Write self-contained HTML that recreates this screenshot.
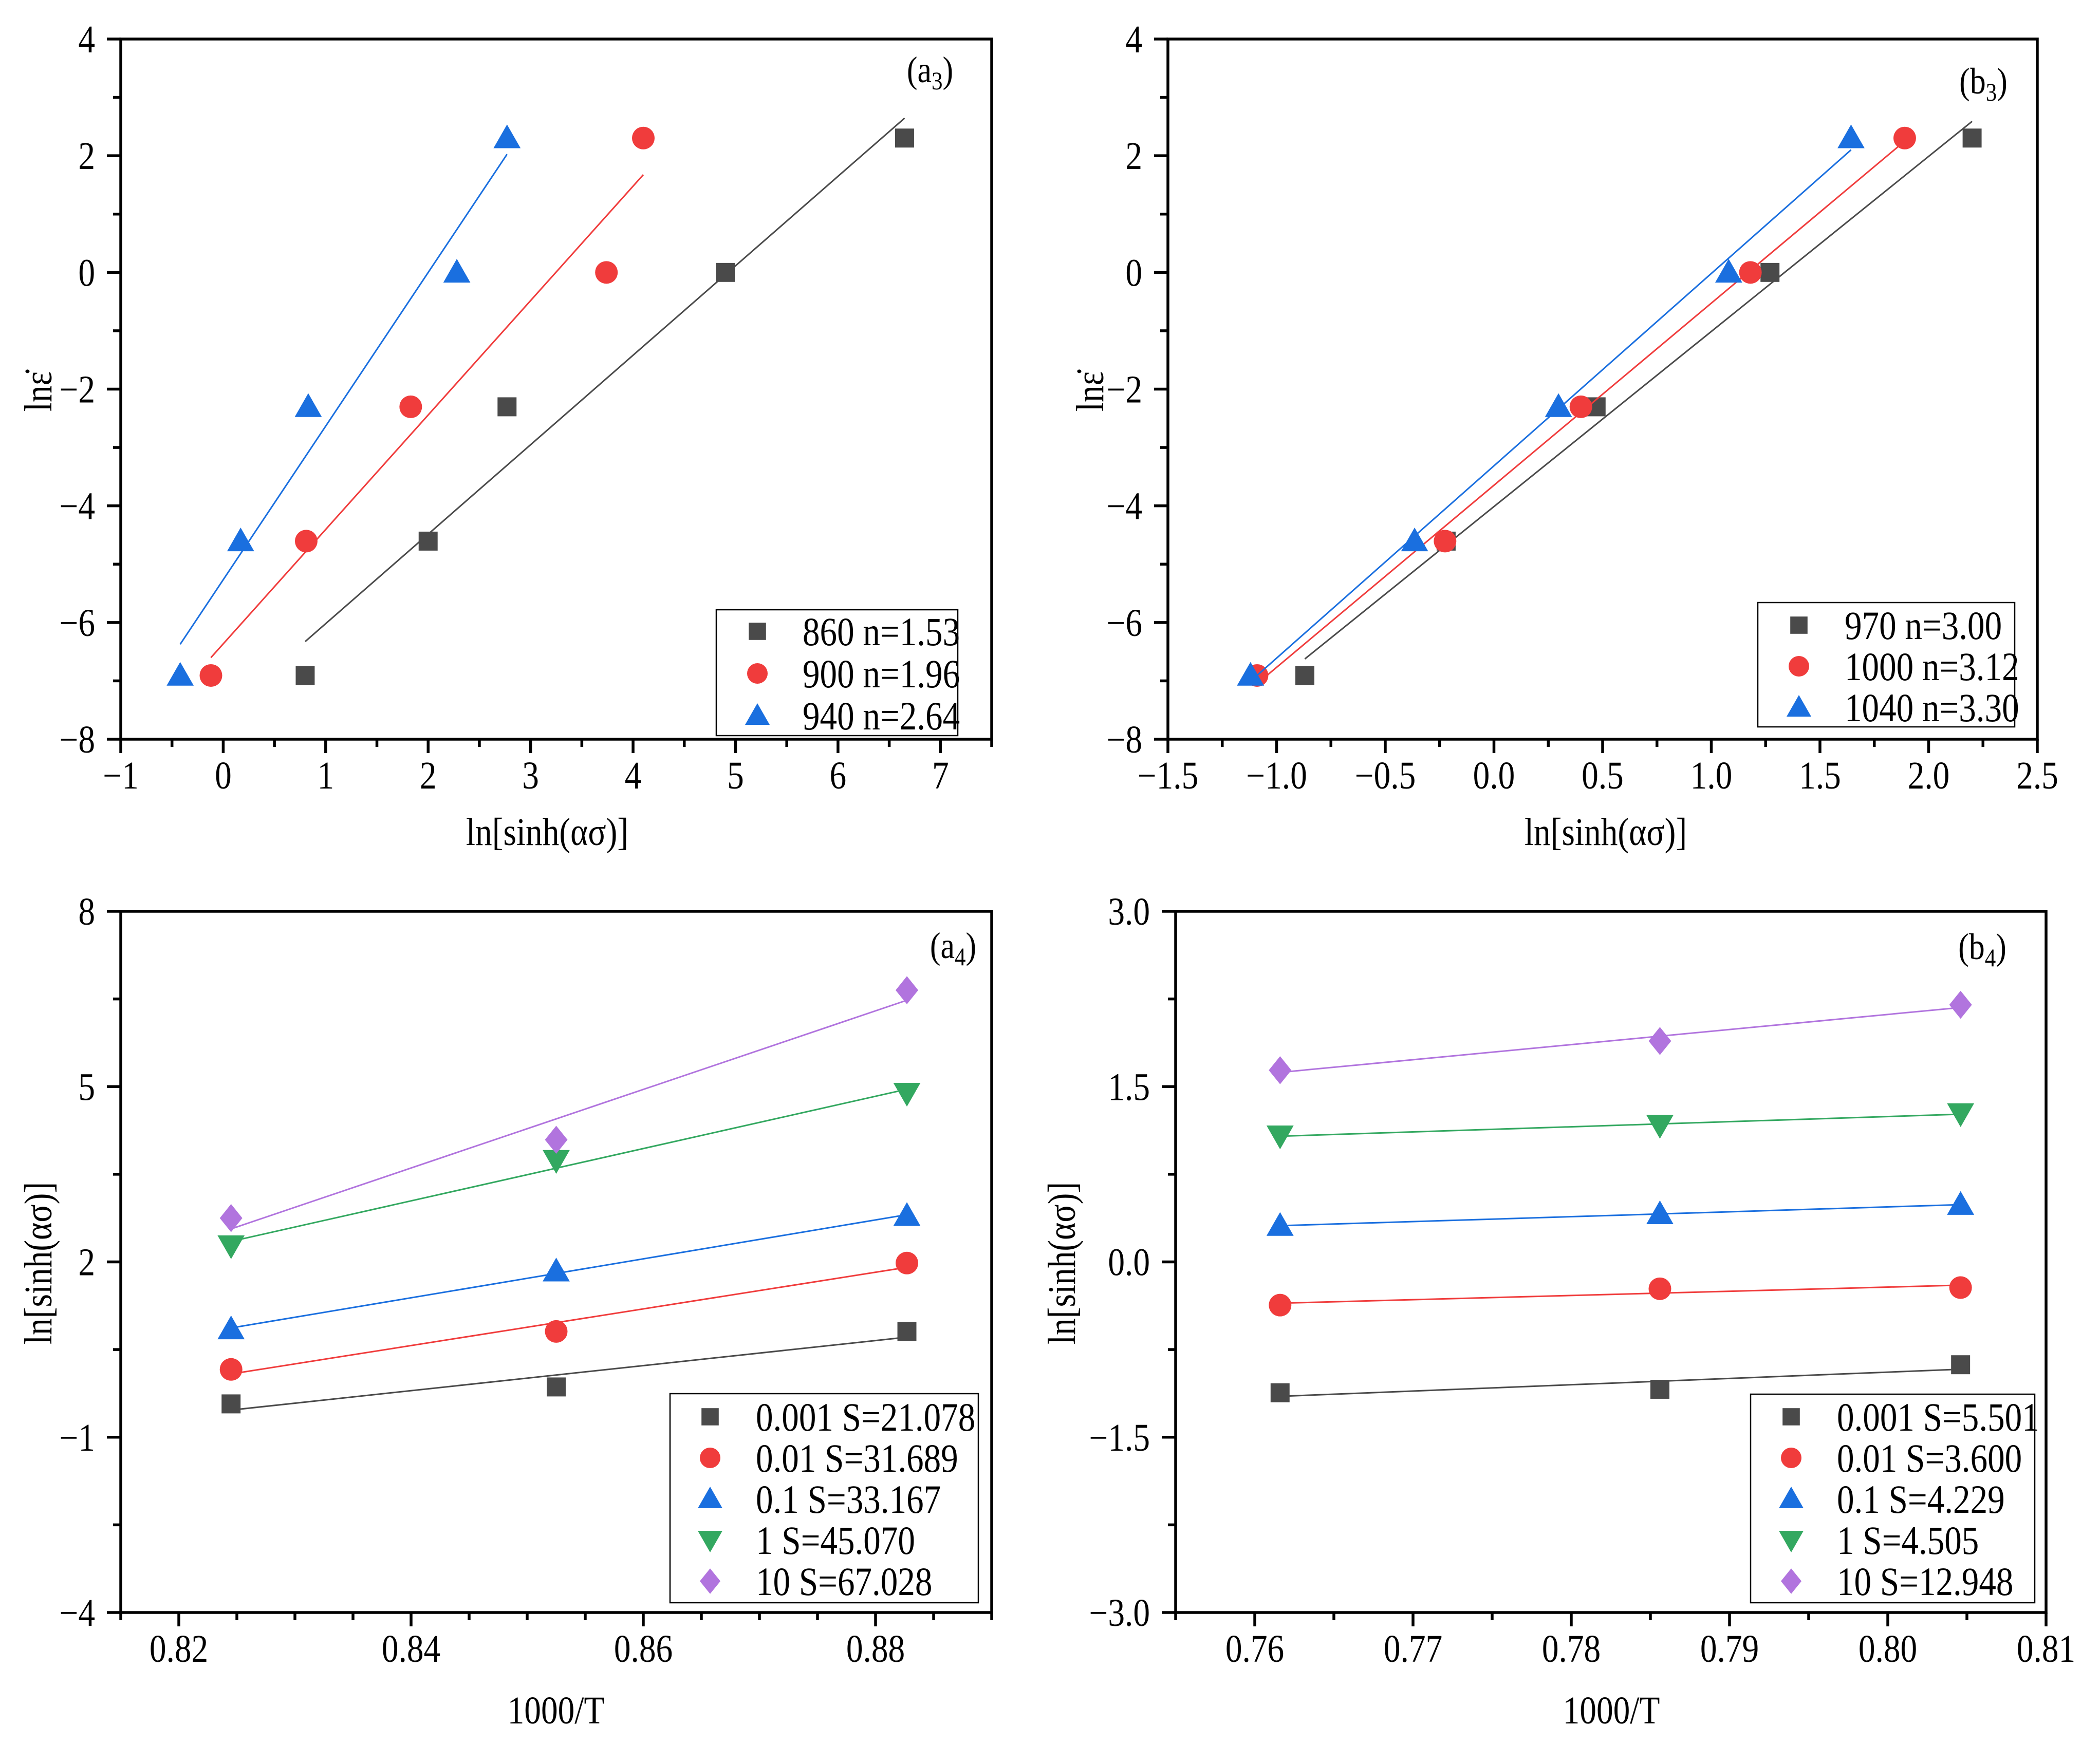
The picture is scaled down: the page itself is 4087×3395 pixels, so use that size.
<!DOCTYPE html>
<html><head><meta charset="utf-8"><style>
html,body{margin:0;padding:0;background:#fff}
svg{display:block}
text{font-family:"Liberation Serif","DejaVu Serif",serif;fill:#000}
</style></head><body>
<svg id="fig" width="4087" height="3395" viewBox="0 0 4087 3395" xmlns="http://www.w3.org/2000/svg"></svg>
<script>
// ---- data ----
const lnRate = [-6.908, -4.605, -2.303, 0, 2.303];
const a3Labels = ["860 n=1.53", "900 n=1.96", "940 n=2.64"];
const a3X860 = [0.80, 2.00, 2.77, 4.90, 6.65];
const a3X900 = [-0.12, 0.81, 1.83, 3.74, 4.10];
const a3X940 = [-0.42, 0.17, 0.83, 2.28, 2.77];
const b3Labels = ["970 n=3.00", "1000 n=3.12", "1040 n=3.30"];
const b3X970 = [-0.87, -0.22, 0.47, 1.27, 2.20];
const b3X1000 = [-1.09, -0.225, 0.40, 1.18, 1.89];
const b3X1040 = [-1.12, -0.365, 0.297, 1.08, 1.643];
const a4T = [0.8245, 0.8525, 0.8827];
const a4Labels = ["0.001 S=21.078", "0.01 S=31.689", "0.1 S=33.167", "1 S=45.070", "10 S=67.028"];
const a4Y0001 = [-0.43, -0.14, 0.81];
const a4Y001 = [0.16, 0.81, 1.98];
const a4Y01 = [0.85, 1.84, 2.79];
const a4Y1 = [2.28, 3.74, 4.89];
const a4Y10 = [2.75, 4.09, 6.65];
const b4T = [0.7616, 0.7856, 0.8046];
const b4Labels = ["0.001 S=5.501", "0.01 S=3.600", "0.1 S=4.229", "1 S=4.505", "10 S=12.948"];
const b4Y0001 = [-1.12, -1.09, -0.88];
const b4Y001 = [-0.37, -0.23, -0.22];
const b4Y01 = [0.31, 0.41, 0.49];
const b4Y1 = [1.08, 1.17, 1.27];
const b4Y10 = [1.64, 1.89, 2.20];
const a3XTicks = ["\u22121","0","1","2","3","4","5","6","7"];
const a3YTicks = ["\u22128","\u22126","\u22124","\u22122","0","2","4"];
const b3XTicks = ["\u22121.5","\u22121.0","\u22120.5","0.0","0.5","1.0","1.5","2.0","2.5"];
const a4XTicks = ["0.82","0.84","0.86","0.88"];
const a4YTicks = ["\u22124","\u22121","2","5","8"];
const b4XTicks = ["0.76","0.77","0.78","0.79","0.80","0.81"];
const b4YTicks = ["\u22123.0","\u22121.5","0.0","1.5","3.0"];

const NS = "http://www.w3.org/2000/svg";
const svg = document.getElementById('fig');
const COLORS = ["#4a4a4a", "#f03c3c", "#1a6fdf", "#33a860", "#b174de"];
const SHAPES = ["square", "circle", "triangle", "tridown", "diamond"];
const SX = 0.86;

function mk(tag, attrs, parent) {
  const e = document.createElementNS(NS, tag);
  for (const k in attrs) e.setAttribute(k, attrs[k]);
  (parent || svg).appendChild(e);
  return e;
}
function txt(parent, x, y, size, anchor, extra) {
  return mk("text", {x: 0, y: 0, "font-size": size, "text-anchor": anchor, transform: `translate(${x},${y}) ${extra || ''} scale(${SX},1)`}, parent);
}
function marker(g, shape, cx, cy, color, s) {
  let e;
  if (shape === "square") e = mk("rect", {x: cx - s*0.42, y: cy - s*0.42, width: s*0.84, height: s*0.84, fill: color}, g);
  else if (shape === "circle") e = mk("circle", {cx: cx, cy: cy, r: s*0.5, fill: color}, g);
  else if (shape === "triangle") e = mk("polygon", {points: `${cx},${cy - s*0.6} ${cx - s*0.6},${cy + s*0.45} ${cx + s*0.6},${cy + s*0.45}`, fill: color}, g);
  else if (shape === "tridown") e = mk("polygon", {points: `${cx},${cy + s*0.6} ${cx - s*0.6},${cy - s*0.45} ${cx + s*0.6},${cy - s*0.45}`, fill: color}, g);
  else e = mk("polygon", {points: `${cx},${cy - s*0.62} ${cx + s*0.5},${cy} ${cx},${cy + s*0.62} ${cx - s*0.5},${cy}`, fill: color}, g);
  return e;
}
function fit(xs, ys) {
  const n = xs.length; let mx = 0, my = 0;
  for (let i = 0; i < n; i++) { mx += xs[i]; my += ys[i]; }
  mx /= n; my /= n;
  let sxy = 0, sxx = 0;
  for (let i = 0; i < n; i++) { sxy += (xs[i]-mx)*(ys[i]-my); sxx += (xs[i]-mx)*(xs[i]-mx); }
  const b = sxy / sxx; return [b, my - b*mx];
}

function panel(p) {
  const g = mk("g", {});
  
  
  const X = v => p.L + (v - p.xmin) / (p.xmax - p.xmin) * (p.R - p.L);
  const Y = v => p.B - (v - p.ymin) / (p.ymax - p.ymin) * (p.B - p.T);
  const tg = mk("g", {stroke: "#000", "stroke-width": 5.5}, g);
  
  
  for (let v = p.xmin; v <= p.xmax + 1e-9; v += p.xminor) {
    const major = Math.abs(((v - p.xfirst) / p.xmajor) - Math.round((v - p.xfirst) / p.xmajor)) < 1e-6 && v >= p.xfirst - 1e-9;
    mk("line", {x1: X(v), x2: X(v), y1: p.B, y2: p.B + (major ? 27 : 15)}, tg);
  }
  for (let v = p.ymin; v <= p.ymax + 1e-9; v += p.yminor) {
    const major = Math.abs(((v - p.ymin) / p.ymajor) - Math.round((v - p.ymin) / p.ymajor)) < 1e-6;
    mk("line", {x1: p.L, x2: p.L - (major ? 27 : 15), y1: Y(v), y2: Y(v)}, tg);
  }
  const fr = mk("rect", {x: p.L, y: p.T, width: p.R - p.L, height: p.B - p.T, fill: "none", stroke: "#000", "stroke-width": 5.5}, g);
  
  
  p.xticks.forEach((lab, i) => {
    const t = txt(g, X(p.xfirst + i * p.xmajor), p.B + 96, 76, "middle");
    
    
    t.textContent = lab;
  });
  p.yticks.forEach((lab, i) => {
    const t = txt(g, p.L - 50, Y(p.ymin + i * p.ymajor) + 26, 76, "end");
    
    
    t.textContent = lab;
  });
  const xt = txt(g, p.xtx, p.xty, 76, "middle");
  
  
  xt.textContent = p.xtitle;
  const yt = mk("text", {x: 0, y: 0, "font-size": 76, "text-anchor": "middle", transform: `translate(${p.ytx},${p.yty}) rotate(-90) scale(${SX},1)`}, g);
  
  
  yt.textContent = p.ytitle;
  const pl = txt(g, p.plx, p.ply, 72, "middle");
  
  
  pl.textContent = "(" + p.plabel;
  const sub = mk("tspan", {"font-size": 50, dy: 14}, pl);
  sub.textContent = p.psub;
  const cl = mk("tspan", {dy: -14}, pl);
  cl.textContent = ")";
  p.series.forEach((s, si) => {
    const sg = mk("g", {}, g);
    
    
    const [b, a] = fit(s.x, s.y);
    const x0 = Math.min(...s.x), x1 = Math.max(...s.x);
    const ln = mk("line", {x1: X(x0), y1: Y(a + b*x0), x2: X(x1), y2: Y(a + b*x1), stroke: COLORS[s.c], "stroke-width": 3}, sg);
    
    
    for (let i = 0; i < s.x.length; i++) {
      const m = marker(sg, SHAPES[s.c], X(s.x[i]), Y(s.y[i]), COLORS[s.c], 44);
      
      
    }
  });
  const lg = mk("g", {}, g);
  
  
  mk("rect", {x: p.lg[0], y: p.lg[1], width: p.lg[2] - p.lg[0], height: p.lg[3] - p.lg[1], fill: "#fff", stroke: "#000", "stroke-width": 2.5}, lg);
  p.series.forEach((s, si) => {
    const ry = p.lrow0 + si * p.lstep;
    const m = marker(lg, SHAPES[s.c], p.lmx, ry, COLORS[s.c], 40);
    
    
    const t = txt(lg, p.ltx, ry + 27, 78, "start");
    
    
    t.textContent = s.label;
  });
}

const epsTitle = "ln\u03B5\u0307";
panel({name: "panel-a3", L: 235, R: 1930, T: 76, B: 1439, xmin: -1, xmax: 7.5, xfirst: -1, xmajor: 1, xminor: 0.5,
  ymin: -8, ymax: 4, ymajor: 2, yminor: 1, xticks: a3XTicks, yticks: a3YTicks,
  xtitle: "ln[sinh(\u03B1\u03C3)]", xtx: 1065, xty: 1645, ytitle: epsTitle, ytx: 100, yty: 762,
  plabel: "a", psub: "3", plx: 1810, ply: 160,
  series: [{label: a3Labels[0], x: a3X860, y: lnRate, c: 0}, {label: a3Labels[1], x: a3X900, y: lnRate, c: 1}, {label: a3Labels[2], x: a3X940, y: lnRate, c: 2}],
  lg: [1394, 1187, 1864, 1432], lrow0: 1229, lstep: 82, lmx: 1474, ltx: 1562});

panel({name: "panel-b3", L: 2273, R: 3965, T: 76, B: 1439, xmin: -1.5, xmax: 2.5, xfirst: -1.5, xmajor: 0.5, xminor: 0.25,
  ymin: -8, ymax: 4, ymajor: 2, yminor: 1, xticks: b3XTicks, yticks: a3YTicks,
  xtitle: "ln[sinh(\u03B1\u03C3)]", xtx: 3125, xty: 1645, ytitle: epsTitle, ytx: 2147, yty: 762,
  plabel: "b", psub: "3", plx: 3860, ply: 182,
  series: [{label: b3Labels[0], x: b3X970, y: lnRate, c: 0}, {label: b3Labels[1], x: b3X1000, y: lnRate, c: 1}, {label: b3Labels[2], x: b3X1040, y: lnRate, c: 2}],
  lg: [3421, 1173, 3921, 1415], lrow0: 1217, lstep: 80, lmx: 3501, ltx: 3590});

panel({name: "panel-a4", L: 235, R: 1930, T: 1774, B: 3139, xmin: 0.815, xmax: 0.89, xfirst: 0.82, xmajor: 0.02, xminor: 0.005,
  ymin: -4, ymax: 8, ymajor: 3, yminor: 1.5, xticks: a4XTicks, yticks: a4YTicks,
  xtitle: "1000/T", xtx: 1082, xty: 3355, ytitle: "ln[sinh(\u03B1\u03C3)]", ytx: 100, yty: 2459,
  plabel: "a", psub: "4", plx: 1855, ply: 1865,
  series: [{label: a4Labels[0], x: a4T, y: a4Y0001, c: 0}, {label: a4Labels[1], x: a4T, y: a4Y001, c: 1}, {label: a4Labels[2], x: a4T, y: a4Y01, c: 2}, {label: a4Labels[3], x: a4T, y: a4Y1, c: 3}, {label: a4Labels[4], x: a4T, y: a4Y10, c: 4}],
  lg: [1304, 2713, 1904, 3120], lrow0: 2758, lstep: 80, lmx: 1382, ltx: 1471});

panel({name: "panel-b4", L: 2288, R: 3982, T: 1774, B: 3139, xmin: 0.755, xmax: 0.81, xfirst: 0.76, xmajor: 0.01, xminor: 0.005,
  ymin: -3, ymax: 3, ymajor: 1.5, yminor: 0.75, xticks: b4XTicks, yticks: b4YTicks,
  xtitle: "1000/T", xtx: 3136, xty: 3355, ytitle: "ln[sinh(\u03B1\u03C3)]", ytx: 2092, yty: 2459,
  plabel: "b", psub: "4", plx: 3858, ply: 1867,
  series: [{label: b4Labels[0], x: b4T, y: b4Y0001, c: 0}, {label: b4Labels[1], x: b4T, y: b4Y001, c: 1}, {label: b4Labels[2], x: b4T, y: b4Y01, c: 2}, {label: b4Labels[3], x: b4T, y: b4Y1, c: 3}, {label: b4Labels[4], x: b4T, y: b4Y10, c: 4}],
  lg: [3407, 2714, 3960, 3120], lrow0: 2758, lstep: 80, lmx: 3486, ltx: 3575});
</script>
</body></html>
